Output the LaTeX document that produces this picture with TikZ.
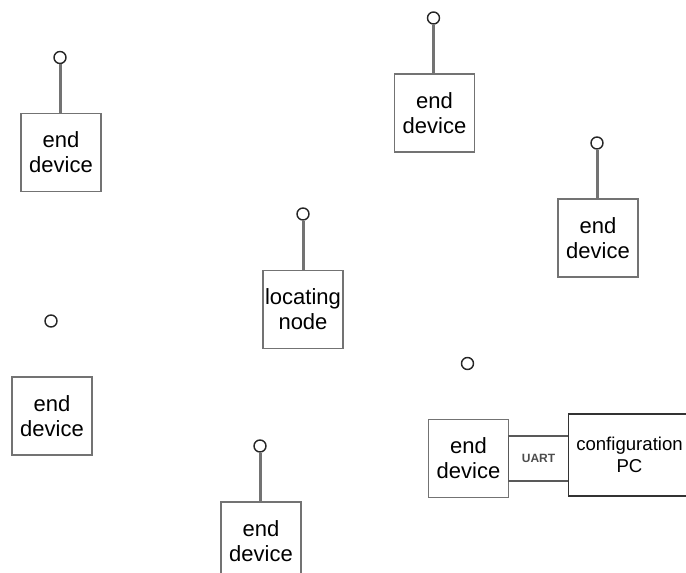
\documentclass[tikz,border=0pt]{standalone}
\usepackage{fontspec}
\setmainfont{Liberation Sans}
\usetikzlibrary{positioning}

\tikzset{
  device/.style={draw=black!55, line width=0.6pt, fill=white, align=center,
    minimum width=40pt, minimum height=39pt, inner sep=0pt, outer sep=0pt,
    font=\fontsize{11}{12.5}\selectfont},
  antenna/.style={circle, draw=black!85, line width=0.7pt, fill=white,
    minimum size=6pt, inner sep=0pt},
  mast/.style={draw=black!55, line width=1.5pt},
  uart/.style={draw=black!65, line width=0.7pt, minimum width=30pt,
    minimum height=22.5pt, inner sep=0pt, outer sep=0pt, text=black!70,
    font=\fontsize{6}{6}\selectfont\bfseries},
  pc/.style={draw=black!80, line width=0.8pt, align=center, minimum width=61pt,
    minimum height=41pt, inner sep=0pt, outer sep=0pt,
    font=\fontsize{9.3}{11}\selectfont}
}

\begin{document}
\begin{tikzpicture}[x=0.5pt, y=-0.5pt]
    \useasboundingbox (0,0) rectangle (686,573);
    \clip (0,0) rectangle (686,573);
    % end devices: name/x/y/with mast
    \foreach \n/\x/\y/\m in {one/61/152.5/1, two/434.5/113/1, three/598/238/1,
                             four/52/416/0, five/261/541/1, six/468.5/458.5/0}
    {
      \node[device] (dev\n) at (\x,\y) {end\\device};
      \node[antenna] (ant\n) at (\x-1,\y-95) {};
      \ifnum\m=1 \draw[mast] (ant\n.south) -- (ant\n.south |- dev\n.north); \fi
    }
    % locating node
    \node[device] (loc) at (303,309.5) {locating\\node};
    \node[antenna] (antloc) at (303,214) {};
    \draw[mast] (antloc.south) -- (loc.north);
    % link to the PC
    \node[uart, right=0pt of devsix] (link) {UART};
    \node[pc, right=0pt of link, yshift=1.75pt] (conf) {configuration\\PC};
\end{tikzpicture}
\end{document}
